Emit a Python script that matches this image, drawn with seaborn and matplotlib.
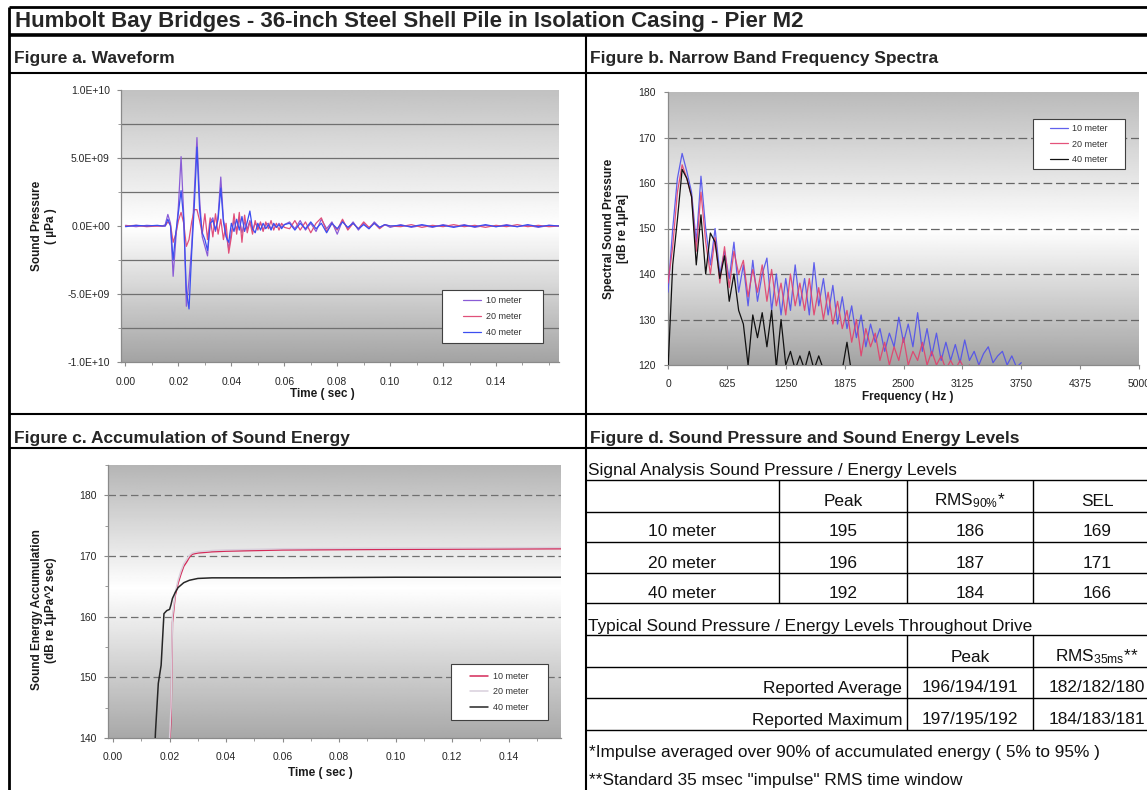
import numpy as np
import matplotlib
matplotlib.use("Agg")
import matplotlib.pyplot as plt
import seaborn as sns
from matplotlib.ticker import FuncFormatter, MultipleLocator, FixedLocator
from matplotlib.patches import Rectangle

sns.set_style("ticks")
plt.rcParams['font.family'] = ['Liberation Sans', 'DejaVu Sans']
plt.rcParams['mathtext.fontset'] = 'custom'
plt.rcParams['mathtext.rm'] = 'Liberation Sans'
plt.rcParams['mathtext.it'] = 'Liberation Sans:italic'
plt.rcParams['mathtext.bf'] = 'Liberation Sans:bold'

# ---------------- data ----------------
series_names = ["10 meter", "20 meter", "40 meter"]

# Figure a: waveform (time in s, pressure in 1E+09 uPa)
wave_time = np.round(np.concatenate([
    [0.000, 0.004, 0.008, 0.012],
    np.arange(0.014, 0.0605, 0.001),
    np.arange(0.062, 0.1005, 0.002),
    np.arange(0.104, 0.1645, 0.004)]), 4)

wave_10m = [0.05, -0.05, 0.05, 0.0,
    0.0, 0.1, 0.85, 0.2, -3.7, -1.0, 1.5, 5.1, 0.8, -5.9, -4.0, -1.5, 2.5, 6.5, 2.0, -0.8,
    -1.5, -2.2, 0.3, 0.6, -0.4, 0.8, 3.6, 0.5, -0.6, -1.7, -0.5, 0.4, -0.3, 0.6, -0.5, 0.3,
    -0.2, 0.4, -0.3, 0.2, -0.1, 0.2, -0.3, 0.1, 0.2, -0.2, 0.1, -0.1, 0.2, -0.1, 0.1,
    0.3, -0.2, 0.4, -0.3, 0.2, -0.4, 0.5, -0.2, 0.3, -0.6, 0.4, -0.2, 0.3, -0.3, 0.2, -0.2, 0.3, -0.1, 0.1, -0.1,
    0.1, -0.1, 0.05, -0.1, 0.1, -0.05, 0.1, -0.1, 0.05, -0.05, 0.1, -0.05, 0.05, -0.1, 0.05, 0.0]
wave_20m = [0.0, 0.05, -0.05, 0.0,
    0.0, 0.0, 0.3, 0.1, -1.2, -0.6, 0.4, 1.0, 0.2, -1.5, -1.0, 0.3, 1.2, 1.2, 0.4, -0.6,
    0.9, -1.0, 0.6, -0.8, 0.9, -0.6, 0.5, -1.0, 0.2, -2.0, -0.8, 0.9, -0.6, 1.0, -1.2, 0.8,
    -0.5, 0.3, -0.6, 0.4, -0.3, 0.3, -0.4, 0.3, -0.2, 0.4, -0.3, 0.2, -0.3, 0.2, -0.1,
    -0.2, 0.4, -0.3, 0.3, -0.5, 0.2, 0.6, -0.4, 0.2, -0.3, 0.5, -0.3, 0.2, -0.2, 0.3, -0.1, 0.2, -0.2, 0.1, 0.0,
    -0.05, 0.1, -0.1, 0.05, -0.05, 0.1, -0.05, 0.05, -0.1, 0.05, -0.05, 0.1, -0.05, 0.05, -0.05, 0.0]
wave_40m = [-0.05, 0.05, 0.0, 0.05,
    0.0, 0.0, 0.5, 0.0, -2.5, -0.5, 1.0, 2.6, 0.5, -4.8, -6.1, -2.0, 1.5, 5.8, 1.2, -0.5,
    -1.0, -1.8, 0.2, 0.4, -0.3, 0.5, 2.8, 0.3, -0.8, -1.2, 0.2, -0.4, 0.5, -0.3, 0.7, -0.4,
    0.3, 1.1, -0.2, -0.5, 0.2, -0.3, 0.2, -0.2, 0.1, -0.3, 0.2, -0.1, 0.1, -0.2, 0.1,
    0.2, -0.3, 0.2, -0.2, 0.3, -0.2, 0.2, -0.5, 0.2, -0.2, 0.3, -0.1, 0.2, -0.2, 0.1, -0.2, 0.2, -0.1, 0.1, 0.0,
    0.05, -0.05, 0.1, -0.05, 0.05, -0.1, 0.05, -0.05, 0.1, -0.05, 0.05, -0.05, 0.1, -0.05, 0.05, 0.0]

# Figure b: narrow band spectra (Hz, dB re 1uPa)
spec_freq = np.arange(0, 3751, 50)
spec_10m = [136, 150, 161, 166.5, 162.5, 158, 147, 161.5, 150, 142, 150, 140, 145, 139, 147, 136,
    142, 133, 143, 134, 140, 143.5, 132, 140, 131, 139, 132, 142, 133, 139, 131, 142.5, 133, 139,
    131, 137.5, 129, 135, 128, 133, 126, 131, 124, 129, 125, 128, 123, 127, 124, 130.5, 125, 129,
    124, 131.5, 123, 128, 122, 127, 121, 125, 121, 124.5, 120.5, 125.5, 121, 123, 120, 122.5,
    124, 120.5, 122, 123, 120, 122, 119.5, 120.5]
spec_20m = [138, 146, 158, 164, 161, 157, 145, 158, 147, 140, 148, 138, 146, 137, 145, 140,
    143, 135, 141, 136, 142, 134, 141, 133, 138, 131, 140, 133, 138, 132, 139, 131, 137, 130,
    136, 129, 134, 128, 132, 125, 130, 122, 128, 124, 127, 121, 125, 120, 124, 121, 126, 120,
    123, 121, 125, 120, 123, 120, 122, 119, 121, 119, 121, 119, 120, 118, 120, 118, 119, 118,
    119, 118, 118, 118, 118, 118]
spec_40m = [119, 142, 152, 163, 161, 157, 142, 153, 140, 149, 147, 139, 144, 134, 140, 132,
    129, 120, 131, 126, 131.5, 124, 132, 119.5, 130, 120, 123, 119, 122, 119, 123, 119, 122, 119,
    118, 118, 118, 119, 125, 118, 117, 116, 118, 117, 116, 117, 116, 115, 116, 115, 116, 115,
    115, 116, 115, 115, 114, 115, 114, 115, 114, 114, 115, 114, 114, 113, 114, 113, 113, 114,
    113, 113, 112, 113, 112, 112]

# Figure c: accumulated sound energy (s, dB re 1uPa^2 sec)
acc_time = [0.000, 0.010, 0.0145, 0.0150, 0.0160, 0.0170, 0.0180, 0.0190, 0.0200, 0.0205, 0.0210,
    0.0220, 0.0230, 0.0240, 0.0250, 0.0260, 0.0270, 0.0280, 0.0300, 0.0350, 0.0400, 0.0600,
    0.1000, 0.1600]
acc_10m = [95, 110, 120, 124, 128, 131, 134, 137, 139, 143, 159, 163.5, 165.5, 167, 168.3, 169,
    169.8, 170.3, 170.5, 170.7, 170.8, 171.0, 171.1, 171.2]
acc_20m = [95, 111, 121, 125, 129, 132, 135, 138, 140, 145, 160, 164, 166, 167.5, 168.7, 169.4,
    170.1, 170.5, 170.7, 170.9, 171.0, 171.2, 171.3, 171.4]
acc_40m = [100, 118, 135, 141, 149, 152, 160.5, 161, 161.2, 162, 163, 164, 164.8, 165.2, 165.6,
    165.8, 166, 166.1, 166.3, 166.4, 166.4, 166.4, 166.5, 166.5]

# Figure d: table
table_rows = ["10 meter", "20 meter", "40 meter"]
table_peak = [195, 196, 192]
table_rms90 = [186, 187, 184]
table_sel = [169, 171, 166]
typical_rows = ["Reported Average", "Reported Maximum"]
typical_peak = ["196/194/191", "197/195/192"]
typical_rms35 = ["182/182/180", "184/183/181"]

# ---------------- figure ----------------
W, H = 1147, 790
fig = plt.figure(figsize=(W / 100, H / 100), dpi=100)
fig.patch.set_facecolor('white')


def rect(l, t, r, b):
    return [l / W, 1 - b / H, (r - l) / W, (b - t) / H]


def gradient(ax, top, bottom, mid):
    f = np.linspace(0, 1, 256)
    v = np.where(f < mid, bottom + (1 - bottom) * f / mid, 1 - (1 - top) * (f - mid) / (1 - mid))
    ax.imshow(v[::-1, None], cmap='gray', vmin=0, vmax=1, extent=[0, 1, 0, 1],
              transform=ax.transAxes, aspect='auto', zorder=0, interpolation='bilinear')


def style_axes(ax):
    for s in ['top', 'right']:
        ax.spines[s].set_visible(False)
    for s in ['left', 'bottom']:
        ax.spines[s].set_color('#8a8a8a')
        ax.spines[s].set_linewidth(0.9)
    ax.tick_params(which='both', colors='#8a8a8a', labelcolor='#262626', labelsize=7.5,
                   direction='out')
    ax.tick_params(which='major', length=3)
    ax.tick_params(which='minor', length=2)


def boxed_legend(ax, x0, y0, x1, y1, order=None):
    h, l = ax.get_legend_handles_labels()
    if order is not None:
        idx = [l.index(n) for n in order]
        h, l = [h[i] for i in idx], [l[i] for i in idx]
    ax.add_patch(Rectangle((x0, y0), x1 - x0, y1 - y0, transform=ax.transAxes,
                           facecolor='white', edgecolor='#404040', lw=0.8, zorder=8))
    lg = ax.legend(h, l, loc='center', bbox_to_anchor=((x0 + x1) / 2, (y0 + y1) / 2),
                   fontsize=6.5, frameon=False, handlelength=2.0, handletextpad=0.5,
                   labelspacing=0.75, borderpad=0.2)
    lg.set_zorder(9)
    for t in lg.get_texts():
        t.set_color('#333333')


lab_font = dict(fontsize=8.5, fontweight='bold', color='#1a1a1a')

# --- Figure a ---
axa = fig.add_axes(rect(121, 90, 559, 362))
gradient(axa, 0.76, 0.64, 0.5)
cols_a = ["#8a5cd6", "#e0507a", "#3c4ef0"]
for name, vals, c in zip(series_names, [wave_10m, wave_20m, wave_40m], cols_a):
    sns.lineplot(x=wave_time, y=np.array(vals) * 1e9, ax=axa, color=c, lw=0.9,
                 label=name, estimator=None, sort=False, zorder=3)
axa.set_xlim(-0.0017, 0.1638)
axa.set_ylim(-1e10, 1e10)
axa.yaxis.set_major_locator(FixedLocator([-1e10, -5e9, 0, 5e9, 1e10]))
axa.yaxis.set_minor_locator(MultipleLocator(2.5e9))
axa.yaxis.set_major_formatter(FuncFormatter(lambda v, p: "%.1E" % v))
axa.xaxis.set_major_locator(FixedLocator([0, 0.02, 0.04, 0.06, 0.08, 0.10, 0.12, 0.14]))
axa.xaxis.set_minor_locator(MultipleLocator(0.01))
axa.xaxis.set_major_formatter(FuncFormatter(lambda v, p: "%.2f" % v))
for yv in [-7.5e9, -5e9, -2.5e9, 2.5e9, 5e9, 7.5e9]:
    axa.axhline(yv, color='#707070', lw=0.9, zorder=1)
style_axes(axa)
axa.tick_params(axis='x', pad=8)
axa.tick_params(axis='y', pad=5)
axa.set_xlabel("Time ( sec )", **lab_font)
axa.set_ylabel("Sound Pressure\n( µPa )", linespacing=1.2, **lab_font)
axa.xaxis.set_label_coords(0.46, -0.095)
axa.yaxis.set_label_coords(-0.146, 0.5)
boxed_legend(axa, 0.733, 0.070, 0.963, 0.265)

# --- Figure b ---
axb = fig.add_axes(rect(668, 92, 1139, 365))
gradient(axb, 0.73, 0.64, 0.5)
cols_b = ["#5050ec", "#e2406c", "#111111"]
spec_all = [spec_10m, spec_20m, spec_40m]
for i in [1, 0, 2]:
    sns.lineplot(x=spec_freq, y=spec_all[i], ax=axb, color=cols_b[i],
                 lw=0.9, label=series_names[i], estimator=None, sort=False, zorder=3 + i,
                 alpha=0.9 if i < 2 else 1.0)
axb.set_xlim(0, 5000)
axb.set_ylim(120, 180)
axb.xaxis.set_major_locator(FixedLocator([0, 625, 1250, 1875, 2500, 3125, 3750, 4375, 5000]))
axb.yaxis.set_major_locator(MultipleLocator(10))
for yv in [130, 140, 150, 160, 170]:
    axb.axhline(yv, color='#666666', lw=0.9, ls=(0, (7, 3)), zorder=1)
style_axes(axb)
axb.tick_params(axis='x', pad=7)
axb.tick_params(axis='y', pad=6)
axb.set_xlabel("Frequency ( Hz )", **lab_font)
axb.set_ylabel("Spectral Sound Pressure\n[dB re 1µPa]", linespacing=1.2, **lab_font)
axb.xaxis.set_label_coords(0.51, -0.095)
axb.yaxis.set_label_coords(-0.083, 0.5)
boxed_legend(axb, 0.775, 0.718, 0.970, 0.901, order=series_names)

# --- Figure c ---
axc = fig.add_axes(rect(108, 465, 561, 738))
gradient(axc, 0.71, 0.66, 0.55)
cols_c = ["#d42a58", "#d9d0dc", "#262626"]
for name, vals, c in zip(series_names, [acc_10m, acc_20m, acc_40m], cols_c):
    sns.lineplot(x=acc_time, y=vals, ax=axc, color=c, lw=1.1, label=name,
                 estimator=None, sort=False, zorder=3)
axc.set_xlim(-0.0018, 0.1585)
axc.set_ylim(140, 185)
axc.yaxis.set_major_locator(MultipleLocator(10))
axc.yaxis.set_minor_locator(MultipleLocator(5))
axc.xaxis.set_major_locator(FixedLocator([0, 0.02, 0.04, 0.06, 0.08, 0.10, 0.12, 0.14]))
axc.xaxis.set_minor_locator(MultipleLocator(0.01))
axc.xaxis.set_major_formatter(FuncFormatter(lambda v, p: "%.2f" % v))
for yv in [150, 160, 170, 180]:
    axc.axhline(yv, color='#707070', lw=0.9, ls=(0, (6, 3)), zorder=1)
style_axes(axc)
axc.tick_params(axis='x', pad=7)
axc.tick_params(axis='y', pad=5)
axc.set_xlabel("Time ( sec )", **lab_font)
axc.set_ylabel("Sound Energy Accumulation\n(dB re 1µPa^2 sec)", linespacing=1.2, **lab_font)
axc.xaxis.set_label_coords(0.469, -0.105)
axc.yaxis.set_label_coords(-0.113, 0.47)
boxed_legend(axc, 0.757, 0.066, 0.971, 0.271)

# --- frame, headers and table ---
ax0 = fig.add_axes([0, 0, 1, 1], zorder=-5)
ax0.set_xlim(0, W)
ax0.set_ylim(H, 0)
ax0.axis('off')


def hline(y, x1=9, x2=W, lw=1.5):
    ax0.plot([x1, x2], [y, y], color='black', lw=lw, solid_capstyle='butt')


def vline(x, y1, y2, lw=1.5):
    ax0.plot([x, x], [y1, y2], color='black', lw=lw, solid_capstyle='butt')


vline(9, 7, H, lw=2)
hline(7, lw=2)
hline(35, lw=2.6)
hline(73)
vline(585.5, 35, H)
hline(414)
hline(448)

ax0.text(15, 22, "Humbolt Bay Bridges - 36-inch Steel Shell Pile in Isolation Casing - Pier M2",
         fontsize=16, fontweight='bold', va='center', ha='left')
hdr = dict(fontsize=12.5, fontweight='bold', va='center', ha='left')
ax0.text(14, 58, "Figure a. Waveform", **hdr)
ax0.text(590, 58, "Figure b. Narrow Band Frequency Spectra", **hdr)
ax0.text(14, 438, "Figure c. Accumulation of Sound Energy", **hdr)
ax0.text(590, 438, "Figure d. Sound Pressure and Sound Energy Levels", **hdr)

tfont = dict(fontsize=12.4, va='center', color='#111111')
for y in [480, 512, 542, 573, 603, 635, 667, 698, 730]:
    hline(y, 585, W, lw=1.0)
vline(778.5, 480, 603, lw=1.0)
for x in [907, 1033]:
    vline(x, 480, 603, lw=1.0)
    vline(x, 635, 730, lw=1.0)

c_lab, c_peak, c_rms, c_sel = 682, 843, 970, 1097
ax0.text(588, 471, "Signal Analysis Sound Pressure / Energy Levels", ha='left', **tfont)
ax0.text(c_peak, 501, "Peak", ha='center', **tfont)
ax0.text(c_rms, 501, r"RMS$_{\mathregular{90\%}}$*", ha='center', **tfont)
ax0.text(c_sel, 501, "SEL", ha='center', **tfont)
for i, (lab, pk, rm, se) in enumerate(zip(table_rows, table_peak, table_rms90, table_sel)):
    y = [532, 563, 594][i]
    ax0.text(c_lab, y, lab, ha='center', **tfont)
    ax0.text(c_peak, y, str(pk), ha='center', **tfont)
    ax0.text(c_rms, y, str(rm), ha='center', **tfont)
    ax0.text(c_sel, y, str(se), ha='center', **tfont)
ax0.text(588, 627, "Typical Sound Pressure / Energy Levels Throughout Drive", ha='left', **tfont)
ax0.text(c_rms, 657, "Peak", ha='center', **tfont)
ax0.text(c_sel, 657, r"RMS$_{\mathregular{35ms}}$**", ha='center', **tfont)
for i, (lab, pk, rm) in enumerate(zip(typical_rows, typical_peak, typical_rms35)):
    y = [688, 720][i]
    ax0.text(902, y, lab, ha='right', **tfont)
    ax0.text(c_rms, y, pk, ha='center', **tfont)
    ax0.text(c_sel, y, rm, ha='center', **tfont)
ax0.text(589, 753, "*Impulse averaged over 90% of accumulated energy ( 5% to 95% )", ha='left', **tfont)
ax0.text(589, 781, "**Standard 35 msec \"impulse\" RMS time window", ha='left', **tfont)

fig.savefig("out.png", dpi=100, facecolor='white')
